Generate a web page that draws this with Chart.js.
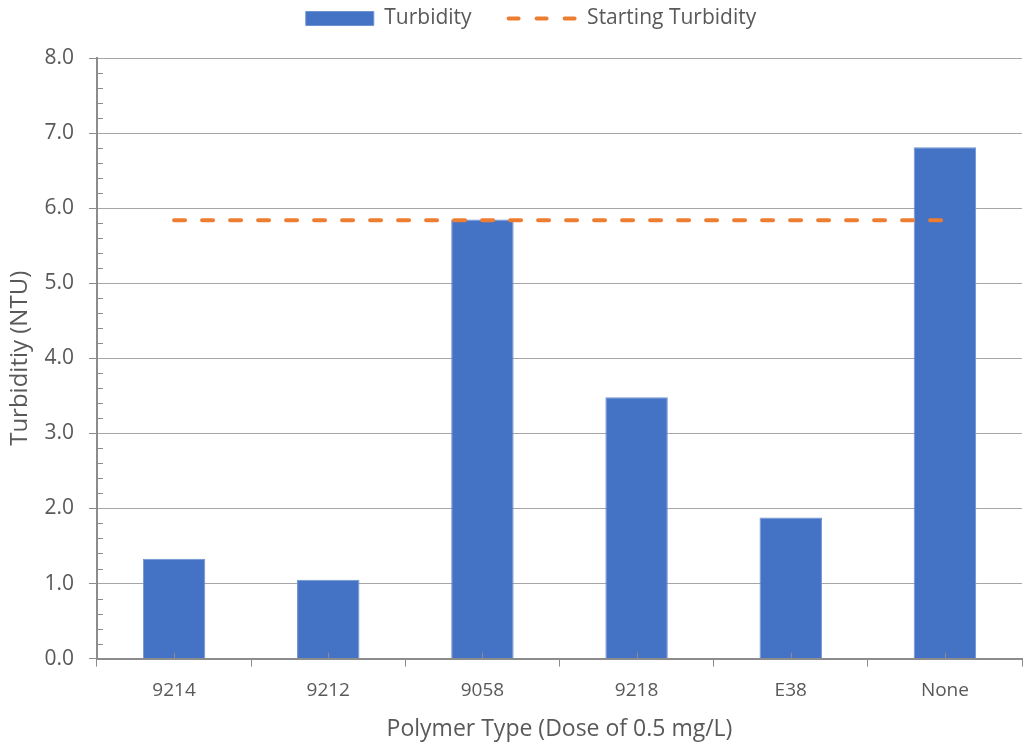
<!DOCTYPE html>
<html>
<head>
<meta charset="utf-8">
<script src="https://cdn.jsdelivr.net/npm/chart.js@4.4.1/dist/chart.umd.min.js"></script>
<style>
  html,body{margin:0;padding:0;background:#fff}
  #wrap{width:1023px;height:748px}
</style>
</head>
<body>
<div id="wrap"><canvas id="c"></canvas></div>
<script>
const polymers = ['9214', '9212', '9058', '9218', 'E38', 'None'];
const turbidity = [1.33, 1.05, 5.85, 3.48, 1.88, 6.81];
const startingTurbidity = [5.84, 5.84, 5.84, 5.84, 5.84, 5.84];

const FONT = "'Open Sans', sans-serif";
const TEXT = '#595959';
const GRID = '#a6a6a6';
const AXIS = '#8c8c8c';

function isMajor(v){ return Math.abs(v - Math.round(v)) < 1e-6 }

// small inward ticks: every 0.2 on the value axis, category centres on the x axis
const minorTicks = {
  id: 'minorTicks',
  afterDraw(chart){
    const {ctx, scales:{x, y}, chartArea:a} = chart;
    ctx.save();
    ctx.strokeStyle = AXIS;
    ctx.lineWidth = 1;
    ctx.beginPath();
    y.ticks.forEach(t=>{
      if(isMajor(t.value)) return;
      const py = Math.round(y.getPixelForValue(t.value)) + 0.5;
      ctx.moveTo(a.left, py); ctx.lineTo(a.left + 6, py);
    });
    polymers.forEach((p, i)=>{
      const px = Math.round(x.getPixelForValue(i)) + 0.5;
      ctx.moveTo(px, a.bottom); ctx.lineTo(px, a.bottom - 6);
    });
    ctx.stroke();
    ctx.restore();
  }
};

// legend: leave a gap under it and nudge it a bit to the right
const legendSpacing = {
  id: 'legendSpacing',
  beforeInit(chart){
    const legend = chart.legend;
    const fit = legend.fit;
    legend.fit = function(){ fit.call(this); this.height += 19; };
    const draw = legend.draw;
    legend.draw = function(){
      const c = this.ctx;
      c.save(); c.translate(17, 0); draw.call(this); c.restore();
    };
  }
};

new Chart(document.getElementById('c'), {
  data: {
    labels: polymers,
    datasets: [
      {
        type: 'line',
        label: 'Starting Turbidity',
        data: startingTurbidity,
        borderColor: '#ED7D31',
        backgroundColor: '#ED7D31',
        borderWidth: 4,
        borderDash: [11, 17],
        borderCapStyle: 'round',
        pointRadius: 0,
        pointStyle: 'line',
        order: 0
      },
      {
        type: 'bar',
        label: 'Turbidity',
        data: turbidity,
        backgroundColor: '#4472C4',
        borderColor: '#6e93d3',
        borderWidth: 1,
        barPercentage: 0.405,
        categoryPercentage: 1,
        pointStyle: 'rect',
        order: 1
      }
    ]
  },
  options: {
    responsive: true,
    maintainAspectRatio: false,
    animation: false,
    layout: { padding: { left: 6, right: 1, top: -29, bottom: 5 } },
    plugins: {
      legend: {
        position: 'top',
        reverse: true,
        labels: {
          usePointStyle: true,
          pointStyleWidth: 68,
          boxWidth: 68,
          boxHeight: 14,
          padding: 37,
          color: TEXT,
          font: { family: FONT, size: 21 },
          generateLabels(chart){
            const items = Chart.defaults.plugins.legend.labels.generateLabels(chart);
            items.forEach(it=>{
              const ds = chart.data.datasets[it.datasetIndex];
              if(ds.type === 'line'){ it.lineDash = [10, 18]; it.lineCap = 'round'; it.lineWidth = 4; }
            });
            return items;
          }
        }
      },
      tooltip: { enabled: false }
    },
    scales: {
      x: {
        offset: true,
        grid: {
          offset: true,
          drawOnChartArea: false,
          color: AXIS,
          tickLength: 8
        },
        border: { color: AXIS, width: 2 },
        ticks: { color: TEXT, font: { family: FONT, size: 19 }, padding: 13 },
        title: {
          display: true,
          text: 'Polymer Type (Dose of 0.5 mg/L)',
          color: TEXT,
          font: { family: FONT, size: 23 },
          padding: { top: 0, bottom: 0 }
        }
      },
      y: {
        min: 0,
        max: 8,
        afterFit(scale){ scale.width = 91; },
        ticks: {
          stepSize: 0.2,
          autoSkip: false,
          color: TEXT,
          font: { family: FONT, size: 21 },
          padding: 15,
          callback: v => isMajor(v) ? v.toFixed(1) : ''
        },
        grid: {
          color: c => (c.tick && isMajor(c.tick.value)) ? GRID : 'transparent',
          tickColor: c => (c.tick && isMajor(c.tick.value)) ? AXIS : 'transparent',
          tickLength: 8
        },
        border: { color: AXIS, width: 2 },
        title: {
          display: true,
          text: 'Turbiditiy (NTU)',
          color: TEXT,
          font: { family: FONT, size: 24 },
          padding: { top: 0, bottom: 0 }
        }
      }
    }
  },
  plugins: [minorTicks, legendSpacing]
});
</script>
</body>
</html>
